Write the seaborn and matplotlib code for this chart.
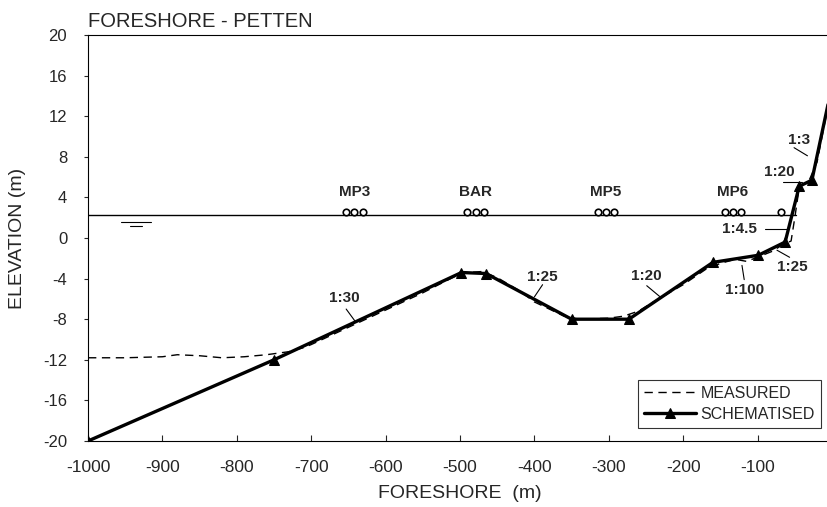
import matplotlib
matplotlib.use("Agg")
import matplotlib.pyplot as plt
import seaborn as sns
import pandas as pd

# ---- data ----
schem_x = [-1000, -750, -498, -465, -350, -273, -160, -99, -63, -44, -27, 0]
schem_y = [-20.0, -12.0, -3.4, -3.5, -8.0, -8.0, -2.4, -1.7, -0.4, 5.1, 5.7, 15.0]

meas_x = [-1000, -950, -900, -880, -850, -820, -790, -760, -730, -710, -700, -650, -600,
          -550, -510, -490, -470, -450, -420, -400, -380, -360, -340, -300, -280, -260,
          -240, -200, -170, -150, -130, -115, -100, -80, -65, -55, -50, -44, -30, -20, 0]
meas_y = [-11.8, -11.8, -11.7, -11.5, -11.6, -11.8, -11.7, -11.5, -11.2, -10.8, -10.5, -8.8, -7.1,
          -5.4, -3.9, -3.4, -3.3, -3.9, -5.2, -6.3, -7.0, -7.7, -8.0, -7.9, -7.7, -7.2,
          -6.3, -4.6, -3.1, -2.5, -2.1, -2.3, -1.9, -1.3, -0.6, -0.3, 2.0, 5.0, 5.8, 7.5, 15.0]

water_level = 2.3
instr_x = [-653, -642, -631, -490, -479, -468, -315, -304, -293, -144, -133, -122, -69]
instr_y = [2.6] * len(instr_x)
instr_names = ["MP3", "BAR", "MP5", "MP6"]
instr_label_x = [-642, -479, -304, -133]

slope_labels = ["1:30", "1:25", "1:20", "1:100", "1:25", "1:4.5", "1:20", "1:3"]
slope_text_xy = [(-655, -5.9), (-390, -3.8), (-249, -3.7), (-118, -5.1),
                 (-54, -2.9), (-124, 0.9), (-71, 6.5), (-44, 9.7)]
slope_lead_from = [(-653, -7.0), (-389, -4.6), (-249, -4.7), (-121, -2.7),
                   (-74, -1.2), (-90, 0.9), (-66, 5.5), (-51, 8.9)]
slope_lead_to = [(-641, -8.2), (-400, -5.8), (-231, -5.8), (-118, -4.1),
                 (-57, -1.9), (-61, 0.9), (-40, 5.5), (-33, 8.1)]

x_ticks = [-1000, -900, -800, -700, -600, -500, -400, -300, -200, -100, 0]
y_ticks = [20, 16, 12, 8, 4, 0, -4, -8, -12, -16, -20]

# ---- plotting ----
sns.set_style("ticks")
plt.rcParams["font.family"] = ["Liberation Sans", "DejaVu Sans"]

fig = plt.figure(figsize=(8.27, 5.07), dpi=100)
ax = fig.add_axes([88 / 827, 66 / 507, 744 / 827, 406 / 507])

meas_df = pd.DataFrame({"x": meas_x, "y": meas_y})
schem_df = pd.DataFrame({"x": schem_x, "y": schem_y})

# water line and level symbol
ax.plot([-1000, -48], [water_level, water_level], color="black", lw=1.0, zorder=2)
ax.plot([-956, -915], [1.6, 1.6], color="black", lw=0.8)
ax.plot([-943, -927], [1.2, 1.2], color="black", lw=0.8)

sns.lineplot(data=meas_df, x="x", y="y", ax=ax, color="black", lw=1.0,
             linestyle=(0, (6, 4)), sort=False, label="MEASURED", zorder=3)
sns.lineplot(data=schem_df, x="x", y="y", ax=ax, color="black", lw=2.4,
             marker="^", markersize=7, markeredgecolor="black", sort=False,
             label="SCHEMATISED", zorder=4)

sns.scatterplot(x=instr_x, y=instr_y, ax=ax, marker="o", s=22, facecolor="white",
                edgecolor="black", linewidth=1.2, zorder=5, legend=False)
for name, xx in zip(instr_names, instr_label_x):
    ax.text(xx, 4.5, name, ha="center", va="center", fontsize=11, fontweight="bold")

for lab, (tx, ty), (fx, fy), (ex, ey) in zip(slope_labels, slope_text_xy,
                                            slope_lead_from, slope_lead_to):
    ax.text(tx, ty, lab, ha="center", va="center", fontsize=11, fontweight="bold")
    ax.plot([fx, ex], [fy, ey], color="black", lw=0.8)

ax.set_xlim(-1000, 0)
ax.set_ylim(-20, 20)
ax.set_xticks(x_ticks)
ax.set_yticks(y_ticks)
ax.set_xticklabels([str(v) for v in x_ticks], fontsize=12.5)
ax.set_yticklabels([str(v) for v in y_ticks], fontsize=12)
ax.tick_params(axis="x", direction="in", length=4, width=0.8, pad=14)
ax.tick_params(axis="y", direction="out", length=3, width=0.8, pad=12)
for s in ["left", "bottom", "top", "right"]:
    ax.spines[s].set_visible(True)
    ax.spines[s].set_linewidth(0.8)
    ax.spines[s].set_color("black")

ax.set_xlabel("FORESHORE  (m)", fontsize=14, labelpad=7)
ax.set_ylabel("ELEVATION (m)", fontsize=14, labelpad=12)
ax.set_title("FORESHORE - PETTEN", loc="left", fontsize=14.5, pad=6)

leg = ax.legend(loc="lower left", bbox_to_anchor=(638 / 827, 79 / 507),
                bbox_transform=fig.transFigure, fontsize=11.5, frameon=True,
                fancybox=False, edgecolor="black", handlelength=3.2,
                handletextpad=0.3, borderpad=0.4, labelspacing=0.35,
                borderaxespad=0)
leg.get_frame().set_linewidth(0.8)

fig.savefig("out.png", dpi=100)
